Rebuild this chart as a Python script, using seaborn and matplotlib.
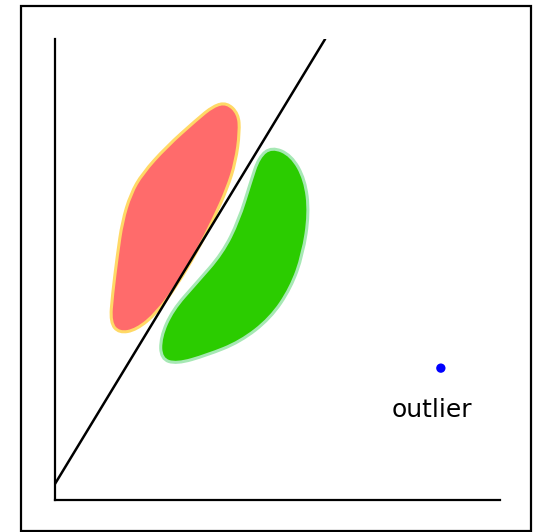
import numpy as np
import pandas as pd
import matplotlib.pyplot as plt
import seaborn as sns
from matplotlib.path import Path
from matplotlib.patches import PathPatch, Rectangle

# outline points of the two clusters (data units)
red_x = [3.86, 4.12, 4.15, 4.06, 3.87, 3.57, 3.19, 2.74, 2.29, 1.83,
         1.44, 1.24, 1.29, 1.40, 1.51, 1.70, 1.96, 2.50, 3.18, 3.56]
red_y = [8.62, 8.38, 7.99, 7.34, 6.76, 6.11, 5.39, 4.66, 4.06, 3.69,
         3.62, 3.85, 4.45, 5.31, 6.04, 6.64, 7.08, 7.66, 8.25, 8.55]

green_x = [4.87, 5.31, 5.62, 5.71, 5.57, 5.30, 4.84, 4.16, 3.41, 2.73,
           2.38, 2.37, 2.64, 3.17, 3.76, 4.13, 4.39, 4.58]
green_y = [7.66, 7.48, 6.95, 6.22, 5.33, 4.60, 3.94, 3.43, 3.14, 2.95,
           3.06, 3.53, 4.12, 4.70, 5.35, 6.07, 6.88, 7.44]

# separating line
line_x = [0.0, 6.07]
line_y = [0.35, 10.0]

# outlier
outlier_x = [8.67]
outlier_y = [2.86]
outlier_label = "outlier"


def smooth_blob(xs, ys):
    # closed smooth path: quadratic beziers through midpoints
    pts = np.column_stack([xs, ys])
    n = len(pts)
    mids = (pts + np.roll(pts, -1, axis=0)) / 2
    verts = [mids[-1]]
    codes = [Path.MOVETO]
    for i in range(n):
        verts += [pts[i], mids[i]]
        codes += [Path.CURVE3, Path.CURVE3]
    return Path(verts, codes)


sns.set_style("white")
fig = plt.figure(figsize=(5.4, 5.32), dpi=100)
ax = fig.add_axes([0.1019, 0.0602, 0.8241, 0.8665])

ax.add_patch(PathPatch(smooth_blob(red_x, red_y), facecolor="#ff6b6b",
                       edgecolor="#ffd966", lw=2.2, zorder=2))
ax.add_patch(PathPatch(smooth_blob(green_x, green_y), facecolor="#2bcc00",
                       edgecolor="#a6e8b4", lw=2.2, zorder=2))

sns.lineplot(x=line_x, y=line_y, color="black", lw=1.8, ax=ax, zorder=3)
sns.scatterplot(x=outlier_x, y=outlier_y, color="#0000ff", s=45,
                edgecolor="none", ax=ax, zorder=4)
ax.text(outlier_x[0] - 0.21, outlier_y[0] - 0.91, outlier_label,
        ha="center", va="center", fontsize=18, color="black")

ax.set_xlim(0, 10)
ax.set_ylim(0, 10)
ax.set_xticks([])
ax.set_yticks([])
sns.despine(ax=ax)
for s in ["left", "bottom"]:
    ax.spines[s].set_linewidth(1.6)
    ax.spines[s].set_color("black")

# outer frame
fig.patches.append(Rectangle((0.0398, 0.0028), 0.9435, 0.9868, transform=fig.transFigure,
                             fill=False, edgecolor="black", lw=1.6))

fig.savefig("out.png", dpi=100)
